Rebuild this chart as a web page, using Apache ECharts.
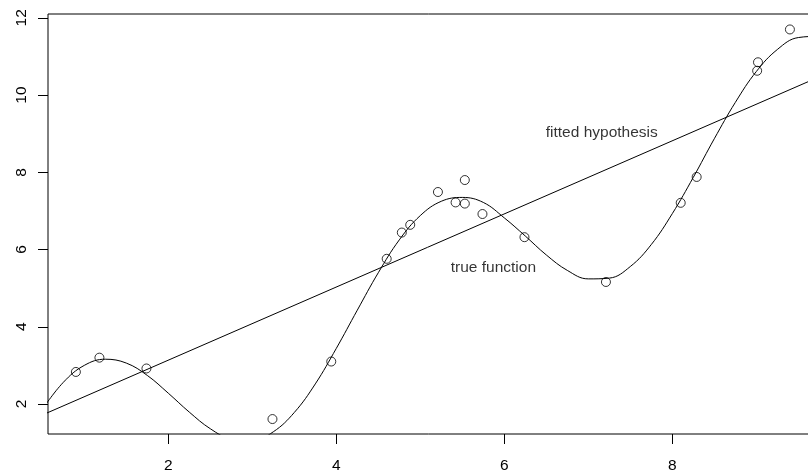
<!DOCTYPE html>
<html>
<head>
<meta charset="utf-8">
<script src="https://cdn.jsdelivr.net/npm/echarts@6/dist/echarts.min.js"></script>
<style>html,body{margin:0;padding:0;background:#fff}#c{width:808px;height:472px}</style>
</head>
<body>
<div id="c"></div>
<script>
// Observed noisy samples
var sampleX = [0.90, 1.18, 1.74, 3.24, 3.94, 4.60, 4.78, 4.88, 5.21, 5.42, 5.53, 5.53, 5.74, 6.24, 7.21, 8.10, 8.29, 9.01, 9.02, 9.40];
var sampleY = [2.83, 3.20, 2.92, 1.61, 3.10, 5.76, 6.44, 6.64, 7.49, 7.22, 7.19, 7.80, 6.92, 6.32, 5.16, 7.21, 7.88, 10.63, 10.85, 11.70];
// True function
var trueX = [0.50, 0.75, 1.00, 1.25, 1.50, 1.75, 2.00, 2.25, 2.50, 2.75, 3.00, 3.25, 3.50, 3.75, 4.00, 4.25, 4.50, 4.75, 5.00, 5.25, 5.50, 5.75, 6.00, 6.25, 6.50, 6.75, 7.00, 7.25, 7.50, 7.75, 8.00, 8.25, 8.50, 8.75, 9.00, 9.25, 9.50, 9.75, 10.00];
var trueY = [1.86, 2.56, 3.00, 3.16, 3.06, 2.74, 2.28, 1.79, 1.36, 1.09, 1.05, 1.28, 1.78, 2.52, 3.44, 4.43, 5.40, 6.25, 6.88, 7.25, 7.35, 7.22, 6.82, 6.35, 5.86, 5.46, 5.24, 5.26, 5.56, 6.13, 6.93, 7.87, 8.87, 9.81, 10.61, 11.18, 11.49, 11.52, 11.30];
// Fitted hypothesis (straight line) end points
var fitX = [0.40, 10.00];
var fitY = [1.62, 10.71];
// Tick labels
var xTicks = [2, 4, 6, 8];
var yTicks = [2, 4, 6, 8, 10, 12];
// Annotations
var noteText = ['fitted hypothesis', 'true function'];
var noteX = [7.16, 5.87];
var noteY = [9.02, 5.52];

function zip(a, b) { return a.map(function (v, i) { return [v, b[i]]; }); }

var FONT = 'Liberation Sans, Arial, sans-serif';
var chart = echarts.init(document.getElementById('c'), null, { renderer: 'canvas' });
chart.setOption({
  animation: false,
  backgroundColor: '#fff',
  grid: { left: 48, top: 14, width: 784, height: 420, show: true, borderColor: '#000', borderWidth: 1, containLabel: false, outerBoundsMode: 'none' },
  xAxis: {
    type: 'value', min: 0.568, max: 9.901,
    axisLine: { show: false },
    axisTick: { show: true, length: 10, customValues: xTicks, lineStyle: { color: '#000', width: 1 } },
    axisLabel: { customValues: xTicks, margin: 24, color: '#000', fontSize: 15.5, fontFamily: FONT },
    splitLine: { show: false }
  },
  yAxis: {
    type: 'value', min: 1.223, max: 12.10,
    axisLine: { show: false },
    axisTick: { show: true, length: 10, customValues: yTicks, lineStyle: { color: '#000', width: 1 } },
    axisLabel: { customValues: yTicks, rotate: 90, margin: 18, color: '#000', fontSize: 15.5, fontFamily: FONT },
    splitLine: { show: false }
  },
  series: [
    {
      type: 'line', data: zip(trueX, trueY), smooth: 0.4, showSymbol: false, symbol: 'none',
      lineStyle: { color: '#000', width: 1 }, clip: true, z: 2
    },
    {
      type: 'line', data: zip(fitX, fitY), showSymbol: false, symbol: 'none',
      lineStyle: { color: '#000', width: 1 }, clip: true, z: 2
    },
    {
      type: 'scatter', data: zip(sampleX, sampleY), symbol: 'circle', symbolSize: 9,
      itemStyle: { color: 'rgba(0,0,0,0)', borderColor: '#000', borderWidth: 1 }, z: 3
    },
    {
      type: 'scatter', data: noteX.map(function (v, i) { return { value: [v, noteY[i]], name: noteText[i] }; }),
      symbolSize: 0, silent: true,
      label: { show: true, position: 'inside', formatter: function (p) { return p.name; }, color: '#000', fontSize: 15.5, fontFamily: FONT }
    }
  ]
});
</script>
</body>
</html>
